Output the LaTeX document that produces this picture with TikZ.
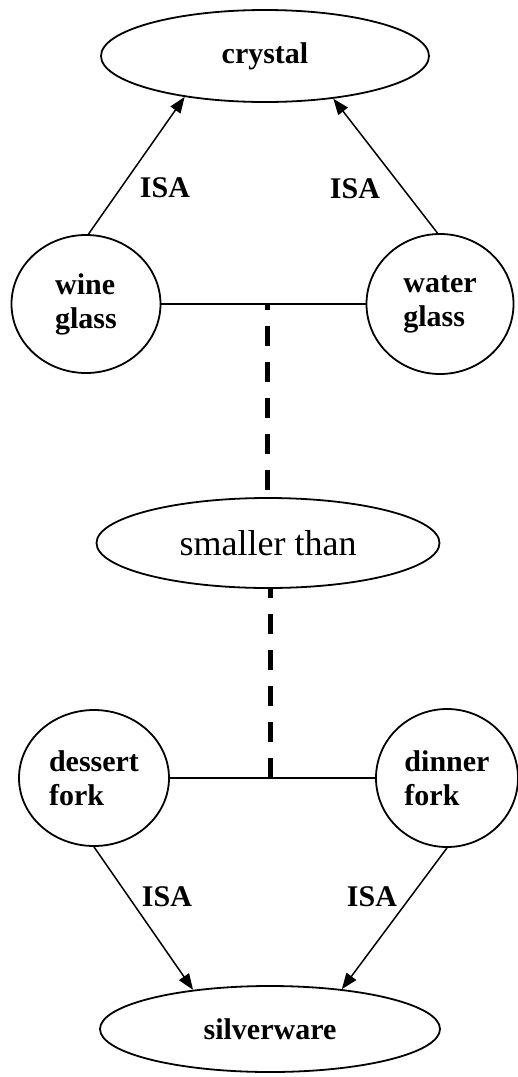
\documentclass[tikz,border=0pt]{standalone}
\usepackage{fontspec}
\setmainfont{Liberation Serif}
\usetikzlibrary{shapes.geometric}
\usetikzlibrary{arrows.meta}
\definecolor{BLACK}{HTML}{000000}

\tikzset{
    concept/.style={BLACK, draw, ellipse, line width=1.8pt, inner sep=0pt, align=left, font=\bfseries\fontsize{30}{34}\selectfont},
    isa/.style={BLACK, font=\bfseries\fontsize{30}{34}\selectfont},
    isaarrow/.style={BLACK, line width=1.5pt, -{Triangle[length=16pt, width=12pt]}},
    link/.style={BLACK, line width=1.6pt},
    relation/.style={BLACK, line width=5pt, dash pattern=on 20pt off 16pt}
}

\begin{document}
\begin{tikzpicture}[x=1pt, y=-1pt]
    \useasboundingbox (0,0) rectangle (518,1077);
    % classes
    \node[concept, minimum width=328pt, minimum height=92pt] (crystal) at (265,56) {crystal};
    \node[concept, minimum width=340pt, minimum height=86pt] (silverware) at (270,1029) {silverware};
    % relation
    \node[concept, font=\fontsize{36}{40}\selectfont, minimum width=343pt, minimum height=90pt] (smaller) at (268,543) {smaller than};
    % objects
    \node[concept, minimum width=149pt, minimum height=138pt] (wine) at (86,304) {wine\\glass};
    \node[concept, minimum width=147pt, minimum height=140pt] (water) at (440,304) {water\\glass};
    \node[concept, minimum width=150pt, minimum height=136pt] (dessert) at (94,778) {dessert\\fork};
    \node[concept, minimum width=142pt, minimum height=138pt] (dinner) at (447,778) {dinner\\fork};
    % ISA links
    \draw[isaarrow] (wine.88) -- (crystal.207);
    \draw[isaarrow] (water.92) -- (crystal.328);
    \draw[isaarrow] (dessert.south) -- (silverware.153);
    \draw[isaarrow] (dinner.south) -- (silverware.29);
    \node[isa] (isawine) at (165,188) {ISA};
    \node[isa] (isawater) at (355,189) {ISA};
    \node[isa] (isadessert) at (167,897) {ISA};
    \node[isa] (isadinner) at (372,897) {ISA};
    % pairs joined to the relation
    \draw[link] (wine.east) -- (water.west);
    \draw[link] (dessert.east) -- (dinner.west);
    \coordinate (glassjoin) at (267,304);
    \coordinate (forkjoin) at (270,778);
    \draw[relation, dash phase=14pt] (glassjoin) -- (glassjoin |- smaller.north);
    \draw[relation, dash phase=11pt] (forkjoin |- smaller.south) -- (forkjoin);
\end{tikzpicture}
\end{document}
